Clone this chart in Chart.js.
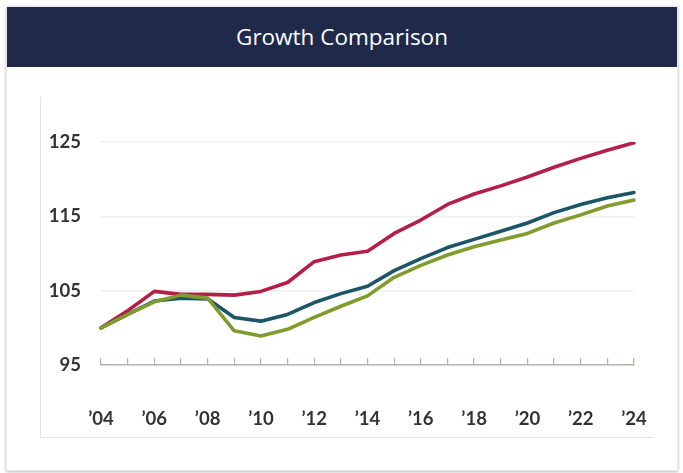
<!DOCTYPE html>
<html>
<head>
<meta charset="utf-8">
<title>Growth Comparison</title>
<script src="https://cdn.jsdelivr.net/npm/chart.js@4.4.1/dist/chart.umd.min.js"></script>
<style>
    html, body { margin: 0; padding: 0; background: #ffffff; }
    .card {
        position: absolute;
        left: 6px; top: 6px;
        width: 670px; height: 463px;
        background: #ffffff;
        border: 1px solid #e6e6e6;
        box-shadow: 0 1px 3px rgba(0, 0, 0, 0.28);
    }
    .card-header {
        height: 60px;
        background: #1f2a4b;
        color: #ffffff;
        font-family: 'Open Sans', sans-serif;
        font-size: 22.5px;
        line-height: 60px;
        text-align: center;
    }
    .chart-frame {
        position: absolute;
        left: 33px; top: 90px;
        width: 613px; height: 340px;
        border-left: 1.5px solid #e2e2e2;
        border-bottom: 1.5px solid #e2e2e2;
    }
</style>
</head>
<body>
<div class="card">
    <div class="card-header">Growth Comparison</div>
    <div class="chart-frame">
        <canvas id="growthChart"></canvas>
    </div>
</div>

<script>
const years = ['’04', '’05', '’06', '’07', '’08', '’09', '’10', '’11', '’12', '’13', '’14',
               '’15', '’16', '’17', '’18', '’19', '’20', '’21', '’22', '’23', '’24'];
const yTicks = [95, 105, 115, 125];

const seriesRed = [100.0, 102.3, 104.9, 104.5, 104.5, 104.4, 104.9, 106.1, 108.9, 109.8, 110.3,
                   112.7, 114.5, 116.6, 118.0, 119.1, 120.3, 121.6, 122.8, 123.9, 124.9];
const seriesTeal = [100.0, 101.8, 103.6, 104.0, 103.9, 101.4, 100.9, 101.8, 103.4, 104.6, 105.6,
                    107.7, 109.3, 110.8, 111.9, 113.0, 114.1, 115.5, 116.6, 117.5, 118.2];
const seriesGreen = [100.0, 101.8, 103.5, 104.4, 104.0, 99.6, 98.9, 99.8, 101.4, 102.9, 104.3,
                     106.8, 108.4, 109.8, 110.9, 111.8, 112.7, 114.1, 115.2, 116.4, 117.2];

const tickFont = { family: 'Lato', size: 18.5, weight: 'bold' };
const axisColor = '#bcaeab';

document.addEventListener('DOMContentLoaded', function() {
    const ctx = document.getElementById('growthChart');

    new Chart(ctx, {
        type: 'line',
        data: {
            labels: years,
            datasets: [
                { data: seriesGreen, borderColor: '#7f9c2d', order: 0 },
                { data: seriesTeal, borderColor: '#1b5568', order: 1 },
                { data: seriesRed, borderColor: '#b51f47', order: 2 }
            ]
        },
        options: {
            responsive: true,
            maintainAspectRatio: false,
            animation: false,
            layout: { padding: { top: 45, right: 20, bottom: 0, left: 0 } },
            elements: {
                line: { borderWidth: 3.6, tension: 0, borderJoinStyle: 'round', borderCapStyle: 'round' },
                point: { radius: 0 }
            },
            plugins: { legend: { display: false }, tooltip: { enabled: false } },
            scales: {
                x: {
                    offset: false,
                    grid: { drawOnChartArea: false, drawTicks: true, tickLength: -7, color: axisColor, lineWidth: 1.2 },
                    border: { color: axisColor, width: 1.5 },
                    ticks: {
                        autoSkip: false,
                        maxRotation: 0,
                        padding: 50,
                        color: '#333333',
                        font: tickFont,
                        callback: (val, i) => (i % 2 === 0 ? years[i] : '')
                    },
                    // the big label gap should not eat into the plot width
                    afterFit: scale => {
                        scale.height = 72;
                        scale.paddingLeft = 0;
                        scale.paddingRight = 0;
                    }
                },
                y: {
                    min: 95,
                    max: 125,
                    afterBuildTicks: scale => { scale.ticks = yTicks.map(v => ({ value: v })); },
                    grid: {
                        drawTicks: false,
                        lineWidth: 1.5,
                        color: c => (c.tick && c.tick.value === 95 ? 'rgba(0,0,0,0)' : '#efefef')
                    },
                    border: { display: false },
                    ticks: { padding: 20, color: '#333333', font: tickFont },
                    afterFit: scale => { scale.width = 60; }
                }
            }
        }
    });
});
</script>
</body>
</html>
